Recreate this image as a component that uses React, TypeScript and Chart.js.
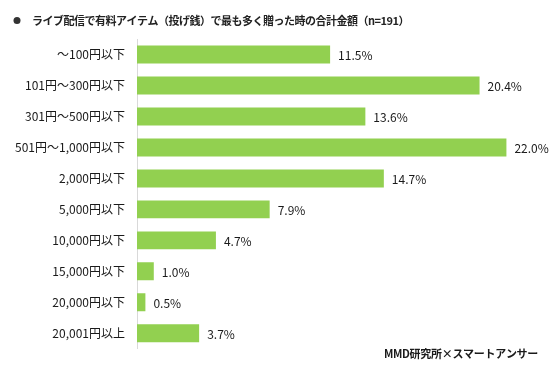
import React, { useEffect, useRef } from "react";
import { Chart, registerables } from "chart.js";

Chart.register(...registerables);

const title = "ライブ配信で有料アイテム（投げ銭）で最も多く贈った時の合計金額（n=191）";
const source = "MMD研究所×スマートアンサー";
const categories = [
  "～100円以下",
  "101円～300円以下",
  "301円～500円以下",
  "501円～1,000円以下",
  "2,000円以下",
  "5,000円以下",
  "10,000円以下",
  "15,000円以下",
  "20,000円以下",
  "20,001円以上",
];
const values = [11.5, 20.4, 13.6, 22.0, 14.7, 7.9, 4.7, 1.0, 0.5, 3.7];

const FONT = '"Noto Sans CJK JP", "Noto Sans", sans-serif';

export default function App() {
  const ref = useRef<HTMLCanvasElement>(null);
  useEffect(() => {
    document.body.style.margin = "0";
    const textPlugin = {
      id: "texts",
      afterDraw(chart: any) {
        const ctx = chart.ctx;
        ctx.save();
        // title bullet
        ctx.fillStyle = "#333333";
        ctx.beginPath();
        ctx.arc(17, 20.5, 3.5, 0, Math.PI * 2);
        ctx.fill();
        ctx.font = `bold 11px ${FONT}`;
        (ctx as any).letterSpacing = "-0.5px";
        ctx.textBaseline = "middle";
        ctx.textAlign = "left";
        ctx.fillStyle = "#222222";
        ctx.fillText(title, 32, 20.5);
        (ctx as any).letterSpacing = "0px";
        // value labels
        const meta = chart.getDatasetMeta(0);
        ctx.fillStyle = "#1a1a1a";
        ctx.font = `12px ${FONT}`;
        meta.data.forEach((bar: any, i: number) => {
          ctx.fillText(values[i].toFixed(1) + "%", bar.x + 8, bar.y + 1);
        });
        // source
        ctx.font = `bold 11px ${FONT}`;
        (ctx as any).letterSpacing = "-0.3px";
        ctx.textAlign = "right";
        ctx.fillStyle = "#1a1a1a";
        ctx.fillText(source, 538, 354);
        ctx.restore();
      },
    };
    const chart = new Chart(ref.current!, {
      type: "bar",
      data: {
        labels: categories,
        datasets: [
          {
            data: values,
            backgroundColor: "#92D050",
            categoryPercentage: 1,
            barPercentage: 0.58,
          },
        ],
      },
      options: {
        indexAxis: "y",
        animation: false,
        responsive: false,
        layout: { padding: { top: 39, bottom: 17, right: 10, left: 0 } },
        plugins: { legend: { display: false }, tooltip: { enabled: false } },
        scales: {
          x: { display: false, min: 0, max: 24 },
          y: {
            grid: { display: false, drawTicks: false },
            border: { display: true, color: "#d9d9d9", width: 1 },
            ticks: {
              color: "#1a1a1a",
              padding: 12,
              font: { family: FONT, size: 12 },
            },
            afterFit(scale: any) {
              scale.width = 137;
            },
          },
        },
      },
      plugins: [textPlugin],
    });
    return () => chart.destroy();
  }, []);
  return (
    <div style={{ width: 550, height: 368, background: "#fff" }}>
      <canvas ref={ref} width={550} height={368} />
    </div>
  );
}
